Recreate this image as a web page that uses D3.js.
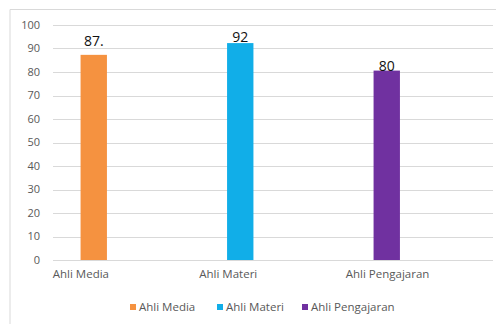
<!DOCTYPE html>
<html>
<head>
<meta charset="utf-8">
<script src="https://cdn.jsdelivr.net/npm/d3@7"></script>
<style>
  body { margin: 0; background: #fff; }
  svg { font-family: "Open Sans", sans-serif; }
</style>
</head>
<body>
<svg width="496" height="324"></svg>
<script>
const categories = ["Ahli Media", "Ahli Materi", "Ahli Pengajaran"];
const values = [87.3, 92.3, 80.6];
const valueLabels = ["87.", "92", "80"];
const colors = ["#F59240", "#11AEE8", "#7031A0"];
const yTicks = [0, 10, 20, 30, 40, 50, 60, 70, 80, 90, 100];

const svg = d3.select("svg");

// chart frame (only top and left edges visible)
svg.append("path")
  .attr("d", "M10,324V9.5H496")
  .attr("fill", "none")
  .attr("stroke", "#D9D9D9");

const y = d3.scaleLinear()
  .domain([0, 100])
  .range([260, 25]);

const x = d3.scaleBand()
  .domain(categories)
  .range([20.5, 460])
  .paddingInner(0.82)
  .paddingOuter(0.41);

// gridlines
svg.append("g")
  .selectAll("line")
  .data(yTicks)
  .join("line")
    .attr("x1", 53)
    .attr("x2", 493)
    .attr("y1", d => Math.round(y(d)) + 0.5)
    .attr("y2", d => Math.round(y(d)) + 0.5)
    .attr("stroke", "#D9D9D9")
    .attr("stroke-width", 1);

// y tick labels
svg.append("g")
  .selectAll("text")
  .data(yTicks)
  .join("text")
    .attr("x", 40)
    .attr("y", d => y(d))
    .attr("dy", "0.35em")
    .attr("text-anchor", "end")
    .attr("font-size", 11)
    .attr("fill", "#595959")
    .text(d => d);

// bars
svg.append("g")
  .selectAll("rect")
  .data(categories)
  .join("rect")
    .attr("x", d => x(d))
    .attr("y", (d, i) => y(values[i]))
    .attr("width", x.bandwidth())
    .attr("height", (d, i) => y(0) - y(values[i]))
    .attr("fill", (d, i) => colors[i]);

// value labels
svg.append("g")
  .selectAll("text")
  .data(categories)
  .join("text")
    .attr("x", d => x(d) + x.bandwidth() / 2)
    .attr("y", (d, i) => y(values[i]) - [9, 1, 0][i])
    .attr("text-anchor", "middle")
    .attr("font-size", 14)
    .attr("fill", "#111")
    .text((d, i) => valueLabels[i]);

// category labels
svg.append("g")
  .selectAll("text")
  .data(categories)
  .join("text")
    .attr("x", d => x(d) + x.bandwidth() / 2 - 41)
    .attr("y", 278)
    .attr("font-size", 11.5)
    .attr("fill", "#595959")
    .text(d => d);

// legend
const legendX = [130, 217, 302];
const legend = svg.append("g")
  .selectAll("g")
  .data(categories)
  .join("g")
    .attr("transform", (d, i) => `translate(${legendX[i]},307)`);

legend.append("rect")
  .attr("x", 0)
  .attr("y", -3)
  .attr("width", 6)
  .attr("height", 6)
  .attr("fill", (d, i) => colors[i]);

legend.append("text")
  .attr("x", 9)
  .attr("y", 0)
  .attr("dy", "0.35em")
  .attr("font-size", 11.5)
  .attr("fill", "#595959")
  .text(d => d);
</script>
</body>
</html>
